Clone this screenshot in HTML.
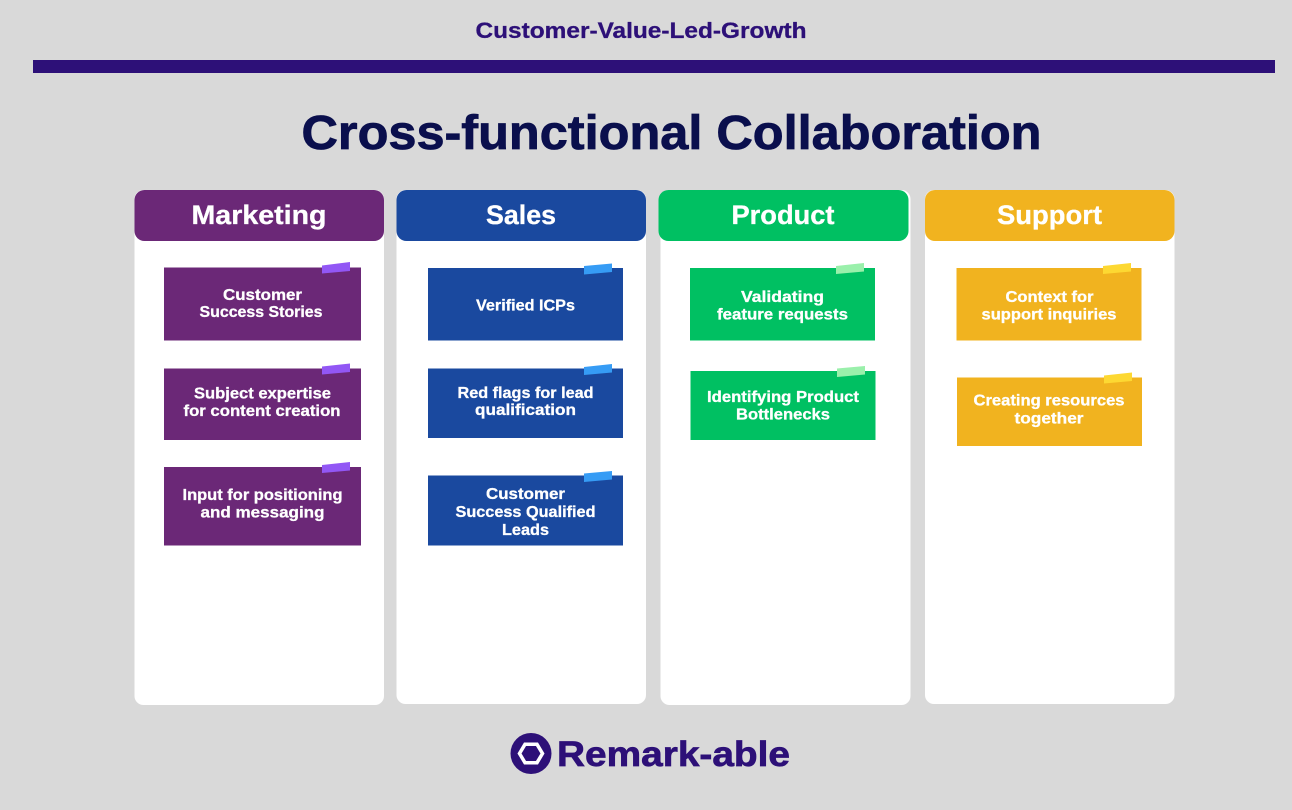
<!DOCTYPE html>
<html><head><meta charset="utf-8"><style>
html,body{margin:0;padding:0;background:#d9d9d9;width:1292px;height:810px;overflow:hidden}
svg{display:block}
text{font-family:"Liberation Sans",sans-serif;font-weight:700;text-anchor:middle;fill:#fff;stroke:#fff;stroke-width:.3}
</style></head><body>
<svg width="1292" height="810" viewBox="0 0 1292 810" xmlns="http://www.w3.org/2000/svg">
<rect width="1292" height="810" fill="#d9d9d9"/>
<text x="641" y="38" font-size="22" textLength="331" lengthAdjust="spacingAndGlyphs" style="fill:#2d1078;stroke:#2d1078">Customer-Value-Led-Growth</text>
<rect x="33" y="60" width="1242" height="13" fill="#2d1078"/>
<text x="671.500" y="149" font-size="48" textLength="740" lengthAdjust="spacingAndGlyphs" style="fill:#0a0f4d;stroke:#0a0f4d;stroke-width:.8">Cross-functional Collaboration</text>

<rect x="134.500" y="190" width="249.500" height="515" rx="9" fill="#fff"/>
<rect x="396.500" y="190" width="249.500" height="514" rx="9" fill="#fff"/>
<rect x="660.500" y="190" width="250" height="515" rx="9" fill="#fff"/>
<rect x="925" y="190" width="249.500" height="514" rx="9" fill="#fff"/>

<rect x="134.500" y="190" width="249.500" height="51" rx="10" fill="#6b2877"/>
<rect x="396.500" y="190" width="249.500" height="51" rx="10" fill="#1a499f"/>
<rect x="658.500" y="190" width="250" height="51" rx="10" fill="#00c062"/>
<rect x="925" y="190" width="249.500" height="51" rx="10" fill="#f1b31f"/>

<text x="259" y="224" font-size="26.500" textLength="135" lengthAdjust="spacingAndGlyphs">Marketing</text>
<text x="521" y="224" font-size="26.500" textLength="70" lengthAdjust="spacingAndGlyphs">Sales</text>
<text x="783" y="224" font-size="26.500" textLength="103" lengthAdjust="spacingAndGlyphs">Product</text>
<text x="1049.500" y="224" font-size="26.500" textLength="105" lengthAdjust="spacingAndGlyphs">Support</text>

<!-- Marketing -->
<g fill="#6b2877">
<rect x="164" y="267.500" width="197" height="73"/>
<rect x="164" y="368.500" width="197" height="71.500"/>
<rect x="164" y="467" width="197" height="78.500"/>
</g>
<g fill="#9257f5">
<polygon points="322,265.500 350,262 350,271 322,273.500"/>
<polygon points="322,366.500 350,363.500 350,372 322,374.500"/>
<polygon points="322,465 350,462 350,470.500 322,473"/>
</g>
<text x="262.500" y="300" font-size="16" textLength="79" lengthAdjust="spacingAndGlyphs">Customer</text>
<text x="261" y="317" font-size="16" textLength="123" lengthAdjust="spacingAndGlyphs">Success Stories</text>
<text x="262.500" y="398.500" font-size="16" textLength="137" lengthAdjust="spacingAndGlyphs">Subject expertise</text>
<text x="262" y="416" font-size="16" textLength="157" lengthAdjust="spacingAndGlyphs">for content creation</text>
<text x="262.500" y="500" font-size="16" textLength="160" lengthAdjust="spacingAndGlyphs">Input for positioning</text>
<text x="262.500" y="517.500" font-size="16" textLength="124" lengthAdjust="spacingAndGlyphs">and messaging</text>

<!-- Sales -->
<g fill="#1a499f">
<rect x="428" y="268" width="195" height="72.500"/>
<rect x="428" y="368.500" width="195" height="69.500"/>
<rect x="428" y="475.500" width="195" height="70"/>
</g>
<g fill="#369cf5">
<polygon points="584,266 612,263.500 612,272 584,274.500"/>
<polygon points="584,367 612,364 612,372.500 584,375"/>
<polygon points="584,473.500 612,471 612,479.500 584,482"/>
</g>
<text x="525.500" y="310.500" font-size="16" textLength="99" lengthAdjust="spacingAndGlyphs">Verified ICPs</text>
<text x="525.500" y="398" font-size="16" textLength="136" lengthAdjust="spacingAndGlyphs">Red flags for lead</text>
<text x="525.500" y="415" font-size="16" textLength="101" lengthAdjust="spacingAndGlyphs">qualification</text>
<text x="525.500" y="499" font-size="16" textLength="79" lengthAdjust="spacingAndGlyphs">Customer</text>
<text x="525.500" y="517" font-size="16" textLength="140" lengthAdjust="spacingAndGlyphs">Success Qualified</text>
<text x="525.500" y="535" font-size="16" textLength="47" lengthAdjust="spacingAndGlyphs">Leads</text>

<!-- Product -->
<g fill="#00c062">
<rect x="690" y="268" width="185" height="72.500"/>
<rect x="690.500" y="371" width="185" height="69"/>
</g>
<g fill="#9af0ab">
<polygon points="836,266 864,263 864,271.500 836,274"/>
<polygon points="837,368.500 865,366 865,374.500 837,377"/>
</g>
<text x="782.500" y="302" font-size="16" textLength="83" lengthAdjust="spacingAndGlyphs">Validating</text>
<text x="782.500" y="319.500" font-size="16" textLength="131" lengthAdjust="spacingAndGlyphs">feature requests</text>
<text x="783" y="402" font-size="16" textLength="152" lengthAdjust="spacingAndGlyphs">Identifying Product</text>
<text x="783" y="419.500" font-size="16" textLength="94" lengthAdjust="spacingAndGlyphs">Bottlenecks</text>

<!-- Support -->
<g fill="#f1b31f">
<rect x="956.500" y="268" width="185" height="72.500"/>
<rect x="957" y="377.500" width="185" height="68.500"/>
</g>
<g fill="#fdd832">
<polygon points="1103,266 1131,263 1131,271.500 1103,274"/>
<polygon points="1104,375.500 1132,372.500 1132,381 1104,383.500"/>
</g>
<text x="1049.500" y="302" font-size="16" textLength="88" lengthAdjust="spacingAndGlyphs">Context for</text>
<text x="1049" y="319.500" font-size="16" textLength="135" lengthAdjust="spacingAndGlyphs">support inquiries</text>
<text x="1049" y="405.500" font-size="16" textLength="151" lengthAdjust="spacingAndGlyphs">Creating resources</text>
<text x="1049" y="423.500" font-size="16" textLength="69" lengthAdjust="spacingAndGlyphs">together</text>

<!-- Logo -->
<circle cx="531" cy="753.500" r="20.500" fill="#2d1078"/>
<polygon points="519.500,753.500 525,744.300 537,744.300 542.500,753.500 537,762.700 525,762.700" fill="#2d1078" stroke="#fff" stroke-width="3.500" stroke-linejoin="miter"/>
<text x="673.500" y="766" font-size="35" textLength="233" lengthAdjust="spacingAndGlyphs" style="fill:#2d1078;stroke:#2d1078;stroke-width:.7">Remark-able</text>
</svg>
</body></html>
